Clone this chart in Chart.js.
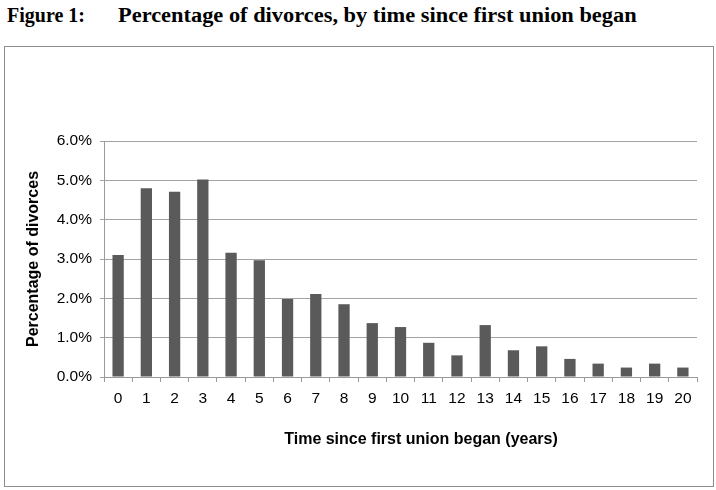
<!DOCTYPE html>
<html lang="en">
<head>
  <meta charset="UTF-8">
  <title>Percentage of divorces</title>
  <script src="https://cdn.jsdelivr.net/npm/chart.js"></script>
  <style>
    body {
      margin: 0;
      background: #fff;
      width: 716px;
      height: 490px;
      position: relative;
      overflow: hidden;
    }
    .fig-title {
      position: absolute;
      top: 4px;
      left: 7px;
      font-family: "Liberation Serif", "Times New Roman", serif;
      font-weight: bold;
      font-size: 20px;
      white-space: nowrap;
    }
    .fig-title span {
      position: absolute;
      top: 0;
      transform-origin: left top;
    }
    .fig-num { left: 0; }
    .fig-text { left: 111px; transform: scaleX(1.12); }
    .chart-box {
      position: absolute;
      left: 4px;
      top: 46px;
      width: 710px;
      height: 441px;
      border: 1px solid #8c8c8c;
      box-sizing: border-box;
    }
  </style>
</head>
<body>
  <div class="fig-title"><span class="fig-num">Figure 1:</span><span class="fig-text">Percentage of divorces, by time since first union began</span></div>
  <div class="chart-box">
    <canvas id="chart" width="708" height="439"></canvas>
  </div>

  <script>
    const years = ['0','1','2','3','4','5','6','7','8','9','10','11','12','13','14','15','16','17','18','19','20'];
    const divorcePct = [3.10, 4.80, 4.71, 5.02, 3.16, 2.97, 1.98, 2.11, 1.85, 1.37, 1.27, 0.87, 0.55, 1.32, 0.68, 0.78, 0.46, 0.34, 0.24, 0.34, 0.24];
    const yTicks = [0, 1, 2, 3, 4, 5, 6];
    const xTitle = 'Time since first union began (years)';

    const family = 'Liberation Sans, Arial, sans-serif';
    const tickFont = { family: family, size: 15.5 };
    const titleFont = { family: family, size: 16, weight: 'bold' };

    // x axis title sits a little right of the plot centre in the original
    const xTitlePlugin = {
      id: 'xTitle',
      afterDraw(chart) {
        const ctx = chart.ctx;
        ctx.save();
        ctx.font = 'bold 16px ' + family;
        ctx.fillStyle = '#000';
        ctx.textAlign = 'center';
        ctx.textBaseline = 'middle';
        ctx.fillText(xTitle, 416, 393);
        ctx.restore();
      }
    };

    new Chart(document.getElementById('chart'), {
      type: 'bar',
      data: {
        labels: years,
        datasets: [{
          label: 'Percentage of divorces',
          data: divorcePct,
          backgroundColor: '#5a5a5a',
          barPercentage: 0.4,
          categoryPercentage: 1
        }]
      },
      options: {
        responsive: false,
        animation: false,
        layout: { padding: { top: 94, right: 16, left: 0, bottom: 0 } },
        plugins: {
          legend: { display: false },
          tooltip: { enabled: false }
        },
        scales: {
          x: {
            afterFit: s => { s.height = 109; },
            grid: { drawOnChartArea: false, tickLength: 5, color: '#9a9a9a' },
            border: { color: '#9a9a9a' },
            ticks: { font: tickFont, color: '#000', padding: 7, maxRotation: 0 }
          },
          y: {
            min: 0,
            max: 6,
            afterFit: s => { s.width = 99; },
            afterBuildTicks: s => { s.ticks = yTicks.map(v => ({ value: v })); },
            grid: { color: '#a3a3a3', tickLength: 4 },
            border: { color: '#9a9a9a' },
            ticks: {
              font: tickFont,
              color: '#000',
              padding: 8,
              callback: v => v.toFixed(1) + '%'
            },
            title: {
              display: true,
              text: 'Percentage of divorces',
              font: titleFont,
              color: '#000',
              padding: { top: 19, bottom: 0 }
            }
          }
        }
      },
      plugins: [xTitlePlugin]
    });
  </script>
</body>
</html>
